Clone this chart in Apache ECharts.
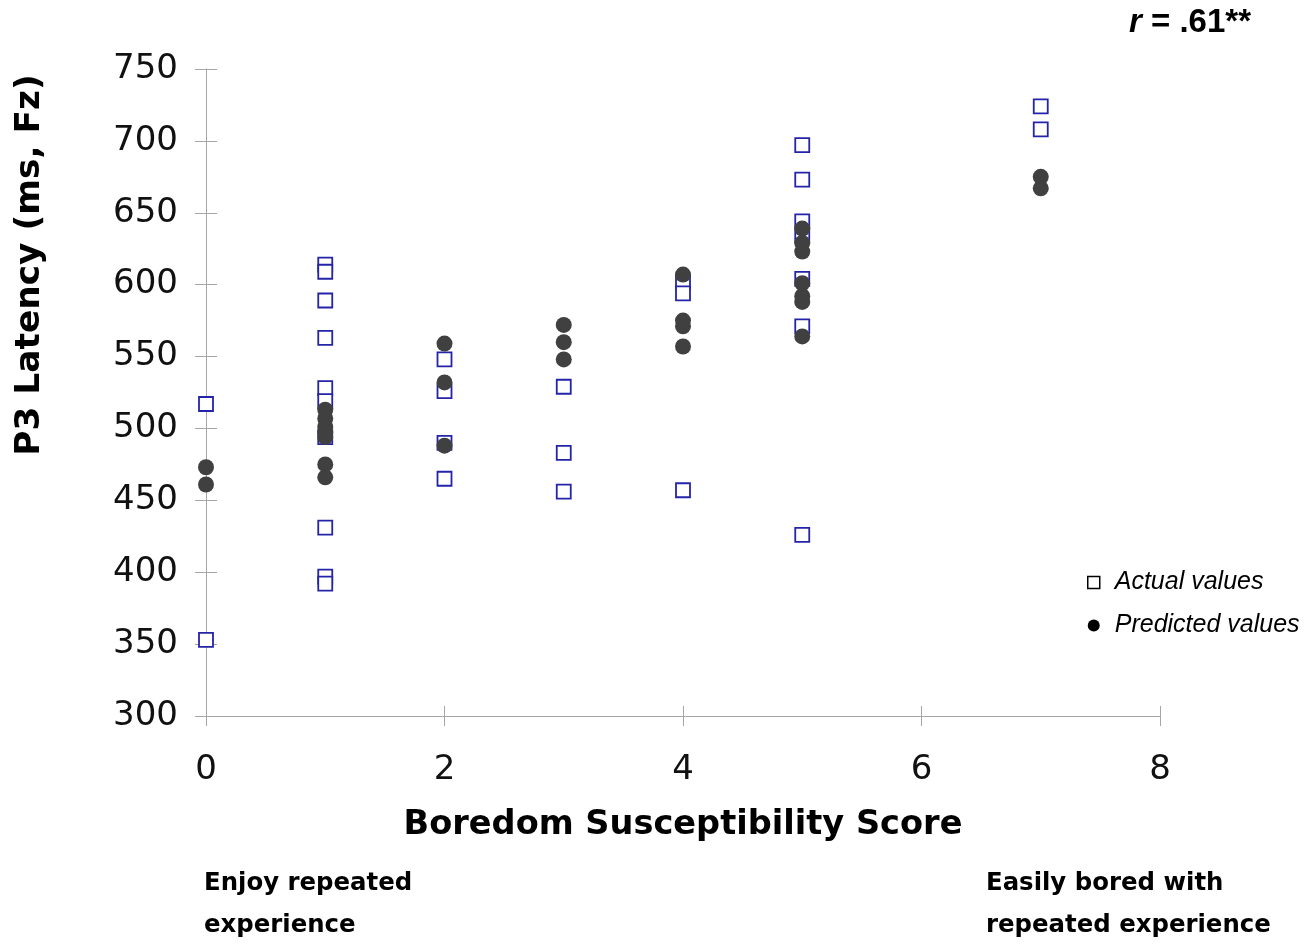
<!DOCTYPE html>
<html>
<head>
<meta charset="utf-8">
<script src="https://cdn.jsdelivr.net/npm/echarts@6/dist/echarts.min.js"></script>
<style>html,body{margin:0;padding:0;background:#fff}#c{width:1316px;height:945px}</style>
</head>
<body>
<div id="c"></div>
<script>
const xTicks = [0, 2, 4, 6, 8];
const yTicks = [300, 350, 400, 450, 500, 550, 600, 650, 700, 750];

const actualX = [0, 0, 1, 1, 1, 1, 1, 1, 1, 1, 1, 1, 2, 2, 2, 2, 3, 3, 3, 4, 4, 4, 5, 5, 5, 5, 5, 5, 5, 7, 7];
const actualY = [517, 353, 614, 609, 589, 563, 528, 519, 494, 431, 397, 392, 548, 526, 490, 465, 529, 483, 456, 602, 594, 457, 697, 673, 644, 634, 604, 571, 426, 724, 708];

const predX = [0, 0, 1, 1, 1, 1, 1, 1, 1, 2, 2, 2, 3, 3, 3, 4, 4, 4, 4, 5, 5, 5, 5, 5, 5, 5, 7, 7];
const predY = [473, 461, 513, 507, 501, 497, 494, 475, 466, 559, 532, 488, 572, 560, 548, 607, 575, 571, 557, 639, 629, 623, 601, 592, 588, 564, 675, 667];

const actualData = actualX.map((x, i) => [x, actualY[i]]);
const predData = predX.map((x, i) => [x, predY[i]]);

const chart = echarts.init(document.getElementById('c'));
const axisGray = '#a6a6a6';
chart.setOption({
  animation: false,
  backgroundColor: '#fff',
  grid: { left: 206, right: 156, top: 69, bottom: 229 },
  xAxis: [{
    type: 'value', min: 0, max: 8, interval: 2,
    axisLine: { show: true, onZero: false, lineStyle: { color: axisGray, width: 1 } },
    axisTick: { show: true, length: 10, lineStyle: { color: axisGray } },
    splitLine: { show: false },
    axisLabel: { fontFamily: 'DejaVu Sans', fontSize: 34, color: '#111', margin: 37 },
    name: 'Boredom Susceptibility Score',
    nameLocation: 'middle', nameGap: 92,
    nameTextStyle: { fontFamily: 'DejaVu Sans', fontWeight: 'bold', fontSize: 33.6, color: '#000' }
  }, {
    type: 'value', min: 0, max: 8, interval: 2, position: 'bottom',
    axisLine: { show: false },
    axisTick: { show: true, inside: true, length: 10, lineStyle: { color: axisGray } },
    splitLine: { show: false }, axisLabel: { show: false }
  }],
  yAxis: [{
    type: 'value', min: 300, max: 750, interval: 50,
    axisLine: { show: true, onZero: false, lineStyle: { color: axisGray, width: 1 } },
    axisTick: { show: true, length: 11, lineStyle: { color: axisGray } },
    splitLine: { show: false },
    axisLabel: { fontFamily: 'DejaVu Sans', fontSize: 34, color: '#111', margin: 28 }
  }, {
    type: 'value', min: 300, max: 750, interval: 50, position: 'left',
    axisLine: { show: false },
    axisTick: { show: true, inside: true, length: 11, lineStyle: { color: axisGray } },
    splitLine: { show: false }, axisLabel: { show: false }
  }],
  legend: {
    orient: 'vertical', left: 1082, top: 565, itemGap: 18,
    itemWidth: 12, itemHeight: 12,
    textStyle: { fontFamily: 'Liberation Sans', fontStyle: 'italic', fontSize: 25, color: '#000', padding: [0, 0, 0, 10] },
    data: [
      { name: 'Actual values', icon: 'rect', itemStyle: { color: '#fff', borderColor: '#000', borderWidth: 1.5 } },
      { name: 'Predicted values', icon: 'circle', itemStyle: { color: '#000', borderWidth: 0 } }
    ]
  },
  series: [{
    name: 'Actual values', type: 'scatter', data: actualData,
    symbol: 'rect', symbolSize: 14, z: 2,
    itemStyle: { color: '#fff', borderColor: '#2424a8', borderWidth: 1.8, opacity: 1 },
    emphasis: { disabled: true }
  }, {
    name: 'Predicted values', type: 'scatter', data: predData,
    symbol: 'circle', symbolSize: 16, z: 3,
    itemStyle: { color: '#404040', opacity: 1 },
    emphasis: { disabled: true }
  }],
  graphic: [
    { type: 'text', x: 30, y: 265, rotation: Math.PI / 2,
      style: { text: 'P3 Latency (ms, Fz)', fontFamily: 'DejaVu Sans', fontWeight: 'bold', fontSize: 34.4, fill: '#000', align: 'center', verticalAlign: 'middle' } },
    { type: 'text', x: 1129, y: 23,
      style: { rich: { i: { fontFamily: 'Liberation Sans', fontStyle: 'italic', fontWeight: 'bold', fontSize: 33, fill: '#000' },
                       b: { fontFamily: 'Liberation Sans', fontWeight: 'bold', fontSize: 33, fill: '#000' } },
               text: '{i|r}{b| = .61**}', verticalAlign: 'middle' } },
    { type: 'text', x: 204, y: 884,
      style: { text: 'Enjoy repeated', fontFamily: 'DejaVu Sans', fontWeight: 'bold', fontSize: 24.4, fill: '#000', verticalAlign: 'middle' } },
    { type: 'text', x: 204, y: 926,
      style: { text: 'experience', fontFamily: 'DejaVu Sans', fontWeight: 'bold', fontSize: 24.4, fill: '#000', verticalAlign: 'middle' } },
    { type: 'text', x: 986, y: 884,
      style: { text: 'Easily bored with', fontFamily: 'DejaVu Sans', fontWeight: 'bold', fontSize: 24.4, fill: '#000', verticalAlign: 'middle' } },
    { type: 'text', x: 986, y: 926,
      style: { text: 'repeated experience', fontFamily: 'DejaVu Sans', fontWeight: 'bold', fontSize: 24.4, fill: '#000', verticalAlign: 'middle' } }
  ]
});
</script>
</body>
</html>
